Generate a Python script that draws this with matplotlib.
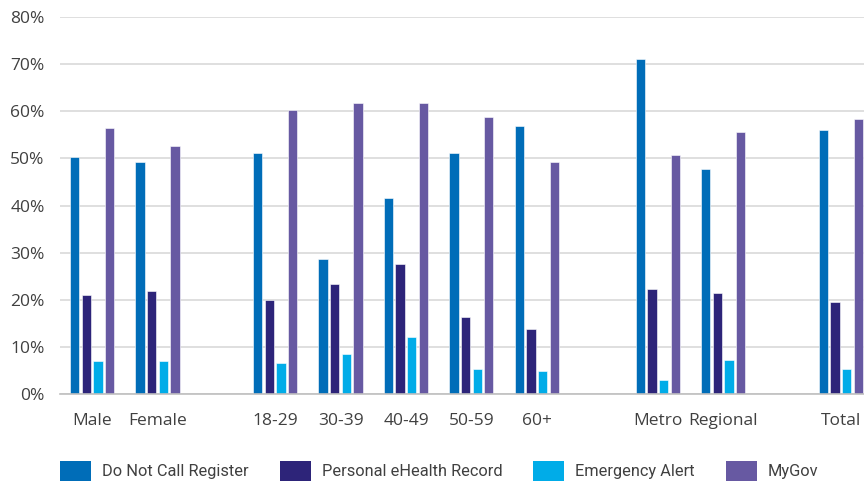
import matplotlib
matplotlib.use("Agg")
import matplotlib.pyplot as plt
from matplotlib.patches import Patch
import numpy as np

categories = ["Male", "Female", "18-29", "30-39", "40-49", "50-59", "60+",
              "Metro", "Regional", "Total"]
series_names = ["Do Not Call Register", "Personal eHealth Record",
                "Emergency Alert", "MyGov"]
do_not_call = [50.3, 49.2, 51.1, 28.7, 41.6, 51.1, 56.9, 71.0, 47.7, 56.1]
ehealth = [21.0, 21.8, 19.9, 23.3, 27.5, 16.4, 13.7, 22.2, 21.4, 19.5]
emergency = [6.9, 6.9, 6.5, 8.4, 12.2, 5.4, 4.9, 3.0, 7.2, 5.3]
mygov = [56.5, 52.6, 60.3, 61.8, 61.8, 58.8, 49.2, 50.8, 55.7, 58.4]
y_ticks = [0, 10, 20, 30, 40, 50, 60, 70, 80]

colors = ["#006DB8", "#2D2479", "#00ACE8", "#6759A2"]
series = [do_not_call, ehealth, emergency, mygov]

# horizontal step from one group to the next (wider gaps between sections)
steps = [1.0, 1.8, 1.0, 1.0, 1.0, 1.0, 1.85, 1.0, 1.8]
x = np.concatenate([[0.0], np.cumsum(steps)])

tick_font = "Open Sans"
legend_font = "Roboto"

fig = plt.figure(figsize=(8.64, 4.84), dpi=100)
ax = fig.add_axes([60 / 864, 1 - 394 / 484, 1 - 60 / 864, (394 - 17) / 484])

pitch = 0.178
width = 0.142
offsets = (np.arange(4) - 1.5) * pitch
for vals, off, col in zip(series, offsets, colors):
    ax.bar(x + off, vals, width=width, color=col, edgecolor="#ffffff",
           linewidth=0.4, zorder=3)

ax.set_xlim(-0.49, (864 - 92) / 65.4)
ax.set_ylim(0, 80)
ax.set_yticks(y_ticks)
ax.set_yticklabels([f"{t}%" for t in y_ticks])
ax.set_xticks(x)
ax.set_xticklabels(categories)

for lab in ax.get_yticklabels() + ax.get_xticklabels():
    lab.set_fontfamily(tick_font)
    lab.set_fontsize(12.5)
    lab.set_color("#404040")
ax.tick_params(axis="y", length=0, pad=11)
ax.tick_params(axis="x", length=0, pad=14)

ax.yaxis.grid(True, color="#d9d9d9", linewidth=1.2, zorder=0)
ax.set_axisbelow(True)
for side in ["top", "right", "left"]:
    ax.spines[side].set_visible(False)
ax.spines["bottom"].set_color("#bfbfbf")
ax.spines["bottom"].set_linewidth(1.2)
ax.spines["bottom"].set_zorder(4)

fs = 11.8
fs_px = fs * 100 / 72
handles = [Patch(facecolor=c, edgecolor="none") for c in colors]
fig.legend(handles, series_names, loc="center left",
           bbox_to_anchor=(60 / 864, 1 - 471 / 484), ncol=4, frameon=False,
           prop={"family": [legend_font, "DejaVu Sans"], "size": fs},
           labelcolor="#404040", handlelength=31 / fs_px,
           handleheight=26 / fs_px, handletextpad=11 / fs_px,
           columnspacing=31 / fs_px, borderaxespad=0, borderpad=0)

fig.savefig("out.png", dpi=100)
